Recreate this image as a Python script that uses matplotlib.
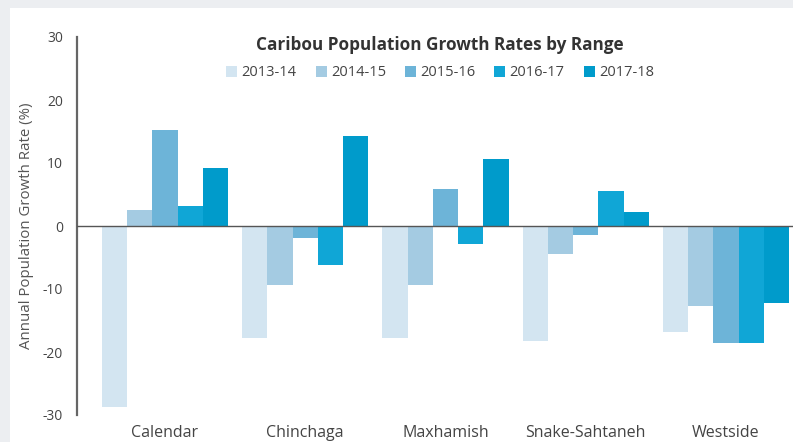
import matplotlib
matplotlib.use("Agg")
import matplotlib.pyplot as plt
from matplotlib.patches import Patch, Rectangle
import numpy as np

plt.rcParams['font.family'] = ['Open Sans', 'DejaVu Sans']

## data
ranges = ["Calendar", "Chinchaga", "Maxhamish", "Snake-Sahtaneh", "Westside"]
years = ["2013-14", "2014-15", "2015-16", "2016-17", "2017-18"]
rate_1314 = [-28.8, -17.7, -17.7, -18.2, -16.9]
rate_1415 = [2.5, -9.4, -9.4, -4.5, -12.7]
rate_1516 = [15.3, -1.9, 5.8, -1.4, -18.6]
rate_1617 = [3.2, -6.2, -2.9, 5.6, -18.5]
rate_1718 = [9.2, 14.3, 10.6, 2.3, -12.2]
rates = [rate_1314, rate_1415, rate_1516, rate_1617, rate_1718]
colours = ["#d3e5f1", "#a4cbe2", "#6db4d8", "#10a6d6", "#009bcb"]

fig = plt.figure(figsize=(7.93, 4.42), dpi=100)
fig.patch.set_facecolor("#eceef1")
# white card behind the chart
fig.patches.append(Rectangle((10 / 793, 0), 1, 1 - 8 / 442, transform=fig.transFigure,
                             facecolor="white", edgecolor="none", zorder=-10))

ax = fig.add_axes([77 / 793, 27 / 442, 1 - 77 / 793, (415 - 37) / 442])
ax.set_facecolor("none")

x = np.arange(len(ranges))
width = 0.18
for i, (vals, col) in enumerate(zip(rates, colours)):
  ax.bar(x + (i - 2) * width, vals, width, color=col, label=years[i], zorder=2)

ax.axhline(0, color="#555555", linewidth=1.0, zorder=3)

ax.set_xlim(-0.627, 4.478)
ax.set_ylim(-30, 30)
ax.set_yticks([-30, -20, -10, 0, 10, 20, 30])
ax.set_yticklabels(["-30", "-20", "-10", "0", "10", "20", "30"])
ax.set_xticks(x)
ax.set_xticklabels(ranges)

for s in ["top", "right", "bottom"]:
  ax.spines[s].set_visible(False)
ax.spines["left"].set_color("#666666")
ax.spines["left"].set_linewidth(1.6)

ax.tick_params(axis="y", length=0, pad=10, labelsize=10, labelcolor="#444444")
ax.tick_params(axis="x", length=0, pad=7, labelsize=11.5, labelcolor="#444444")

ax.set_ylabel("Annual Population Growth Rate (%)", fontsize=10.8, color="#555555", labelpad=6)

fig.text(0.555, 1 - 45 / 442, "Caribou Population Growth Rates by Range", ha="center", va="center",
         fontsize=12.3, fontweight="bold", color="#333333")

handles = [Patch(facecolor=c, edgecolor="none") for c in colours]
fig.legend(handles, years, loc="center", bbox_to_anchor=(0.555, 1 - 73 / 442), ncol=5,
           frameon=False, fontsize=10.5, handlelength=0.75, handleheight=0.75,
           handletextpad=0.3, columnspacing=1.3, labelcolor="#444444")

plt.savefig("out.png", dpi=100, facecolor=fig.get_facecolor())
